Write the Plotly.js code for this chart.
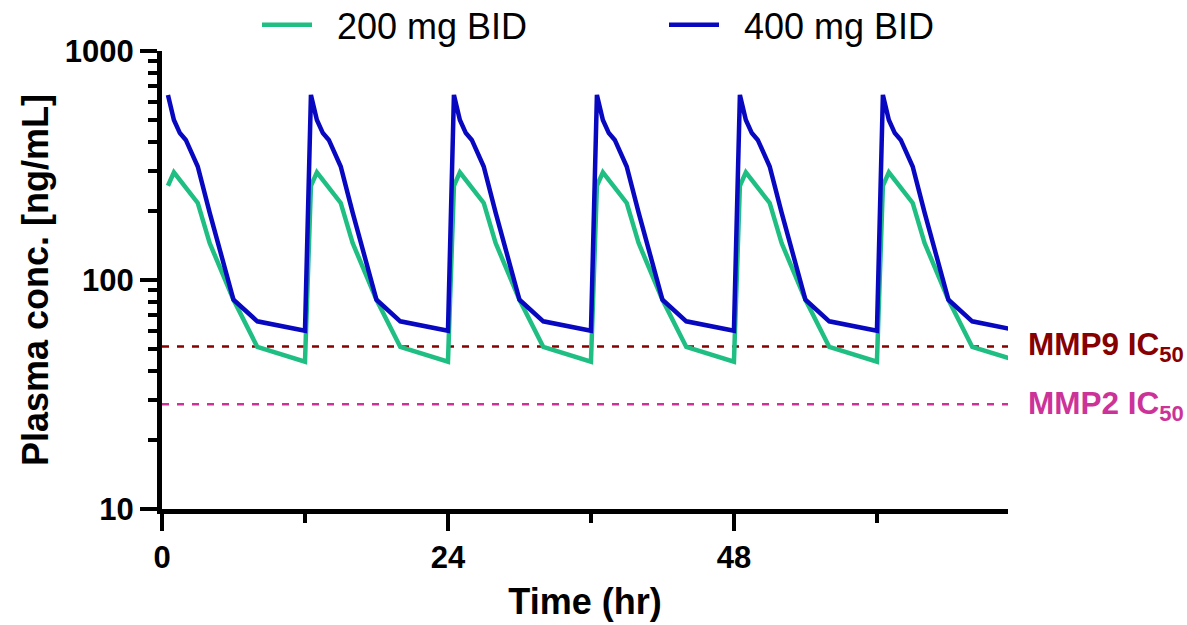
<!DOCTYPE html>
<html>
<head>
<meta charset="utf-8">
<script src="https://cdn.plot.ly/plotly-3.0.1.min.js"></script>
<style>html,body{margin:0;padding:0;background:#fff}#chart{width:1187px;height:625px}</style>
</head>
<body>
<div id="chart"></div>
<script>
// Time (hr) and plasma concentration (ng/mL)
var time400 = [0.5,1,1.5,2,3,4,6,8,12, 12.5,13,13.5,14,15,16,18,20,24, 24.5,25,25.5,26,27,28,30,32,36,
               36.5,37,37.5,38,39,40,42,44,48, 48.5,49,49.5,50,51,52,54,56,60, 60.5,61,61.5,62,63,64,66,68,72];
var conc400 = [643,500,438,409,313,197,82,66,60, 643,500,438,409,313,197,82,66,60, 643,500,438,409,313,197,82,66,60,
               643,500,438,409,313,197,82,66,60, 643,500,438,409,313,197,82,66,60, 643,500,438,409,313,197,82,66,60];
var time200 = [0.5,1,3,4,6,8,12, 12.5,13,15,16,18,20,24, 24.5,25,27,28,30,32,36,
               36.5,37,39,40,42,44,48, 48.5,49,51,52,54,56,60, 60.5,61,63,64,66,68,72];
var conc200 = [258,295,217,145,82,51,44, 258,295,217,145,82,51,44, 258,295,217,145,82,51,44,
               258,295,217,145,82,51,44, 258,295,217,145,82,51,44, 258,295,217,145,82,51,44];
var seriesNames = ["200 mg BID", "400 mg BID"];
var ic50Names = ["MMP9 IC<sub>50</sub>", "MMP2 IC<sub>50</sub>"];
var ic50Values = [51.3, 28.7];
var xRange = [0, 71];
var xTickVals = [0, 24, 48];
var yTickVals = [10, 100, 1000];
var yMinorVals = [20,30,40,50,60,70,80,90,200,300,400,500,600,700,800,900];

var FONT = "Liberation Sans, Arial, sans-serif";
var GREEN = "#1fbf83", BLUE = "#0808c0", RED = "#860000", PINK = "#cc3399";
var PAD = "\u00A0\u00A0";
var icColors = [RED, PINK];

var traces = ic50Values.map(function(v, i){
  return {x: xRange, y: [v, v], type: "scatter", mode: "lines", showlegend: false, hoverinfo: "skip",
          line: {color: icColors[i], width: 2.5, dash: "7px,8px"}};
});
traces.push(
  {x: time200, y: conc200, name: PAD + seriesNames[0], type: "scatter", mode: "lines",
   line: {color: GREEN, width: 4.5}},
  {x: time400, y: conc400, name: PAD + seriesNames[1], type: "scatter", mode: "lines",
   line: {color: BLUE, width: 4.5}}
);

var annotations = ic50Values.map(function(v, i){
  return {xref: "paper", x: 1, xshift: 18, xanchor: "left", yref: "y", y: Math.log10(v), yanchor: "middle",
          yshift: i === 0 ? 0 : -1, text: ic50Names[i], showarrow: false,
          font: {family: FONT, size: 31.5, color: icColors[i], weight: 700}};
});

var layout = {
  width: 1187, height: 625,
  margin: {l: 162, r: 179, t: 51, b: 116, autoexpand: false},
  paper_bgcolor: "#fff", plot_bgcolor: "rgba(0,0,0,0)",
  showlegend: true,
  legend: {orientation: "h", x: 0.1123, xanchor: "left", y: 1.057, yanchor: "middle",
           font: {family: FONT, size: 36, color: "#000"}, itemwidth: 50, entrywidth: 342,
           bgcolor: "rgba(0,0,0,0)"},
  xaxis: {range: xRange, tickvals: xTickVals, ticktext: xTickVals.map(String),
          showgrid: false, zeroline: false, showline: true, linecolor: "#000", linewidth: 5,
          ticks: "outside", ticklen: 17, tickwidth: 4, tickcolor: "#000",
          minor: {dtick: 12, tick0: 0, ticks: "outside", ticklen: 9, tickwidth: 4, tickcolor: "#000", showgrid: false},
          tickfont: {family: FONT, size: 31, color: "#000", weight: 700},
          title: {text: "Time (hr)", font: {family: FONT, size: 36, color: "#000", weight: 700}, standoff: 16}},
  yaxis: {type: "log", range: [1, 3], tickvals: yTickVals, ticktext: yTickVals.map(String),
          showgrid: false, zeroline: false, showline: true, linecolor: "#000", linewidth: 5,
          ticks: "outside", ticklen: 17, tickwidth: 4, tickcolor: "#000",
          minor: {tickvals: yMinorVals, ticks: "outside", ticklen: 9, tickwidth: 4, tickcolor: "#000", showgrid: false},
          tickfont: {family: FONT, size: 31, color: "#000", weight: 700},
          title: {text: "Plasma conc. [ng/mL]", font: {family: FONT, size: 36, color: "#000", weight: 700}, standoff: 7}},
  annotations: annotations
};

Plotly.newPlot("chart", traces, layout, {displayModeBar: false, staticPlot: true});
</script>
</body>
</html>
